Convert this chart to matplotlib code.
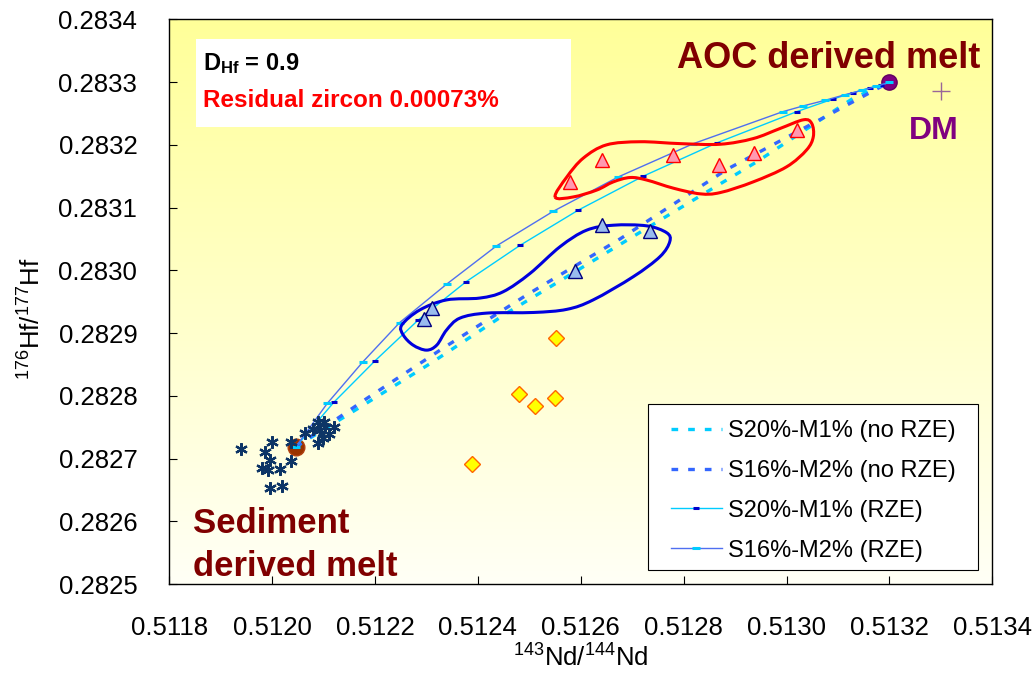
import numpy as np
import matplotlib
matplotlib.use("Agg")
import matplotlib.pyplot as plt
from matplotlib.colors import LinearSegmentedColormap
from matplotlib.patches import Rectangle, PathPatch
from matplotlib.path import Path

plt.rcParams["font.family"] = ["Liberation Sans", "DejaVu Sans"]
plt.rcParams["mathtext.fontset"] = "custom"
plt.rcParams["mathtext.rm"] = "Liberation Sans"
plt.rcParams["mathtext.it"] = "Liberation Sans:italic"
plt.rcParams["mathtext.bf"] = "Liberation Sans:bold"

# end members
sediment = (0.512046, 0.282719)
aoc = (0.513200, 0.283300)
dm = (0.513300, 0.283286)

# measured samples
stars_x = [0.511940, 0.512000, 0.511987, 0.511996, 0.511980, 0.511992, 0.512015, 0.512036,
           0.512037, 0.512063, 0.512079, 0.512090, 0.512101, 0.512093, 0.512103, 0.512099,
           0.512090, 0.512120, 0.511996, 0.512019, 0.512110]
stars_y = [0.282716, 0.282727, 0.282710, 0.282698, 0.282686, 0.282682, 0.282684, 0.282696,
           0.282727, 0.282741, 0.282748, 0.282759, 0.282759, 0.282746, 0.282751, 0.282733,
           0.282725, 0.282751, 0.282653, 0.282657, 0.282740]

red_tri_x = [0.512579, 0.512641, 0.512779, 0.512869, 0.512937, 0.513020]
red_tri_y = [0.283141, 0.283176, 0.283184, 0.283168, 0.283187, 0.283224]

blue_tri_x = [0.512310, 0.512296, 0.512589, 0.512641, 0.512735]
blue_tri_y = [0.282940, 0.282922, 0.282999, 0.283072, 0.283062]

diam_x = [0.512552, 0.512480, 0.512510, 0.512549, 0.512389]
diam_y = [0.282893, 0.282803, 0.282784, 0.282797, 0.282692]

# mixing models
s20_norze_x = [0.512046, 0.512147, 0.512310, 0.512456, 0.512573, 0.512754, 0.512942, 0.513129, 0.513200]
s20_norze_y = [0.282719, 0.282770, 0.282853, 0.282932, 0.282990, 0.283080, 0.283173, 0.283274, 0.283300]

s16_norze_x = [0.512046, 0.512184, 0.512332, 0.512495, 0.512676, 0.512884, 0.513078, 0.513200]
s16_norze_y = [0.282719, 0.282796, 0.282876, 0.282961, 0.283050, 0.283161, 0.283246, 0.283300]

s20_rze_x = [0.512046, 0.512120, 0.512200, 0.512284, 0.512377, 0.512482, 0.512595, 0.512721,
             0.512864, 0.513020, 0.513090, 0.513129, 0.513162, 0.513184, 0.513200]
s20_rze_y = [0.282719, 0.282790, 0.282856, 0.282921, 0.282982, 0.283040, 0.283096, 0.283150,
             0.283203, 0.283253, 0.283273, 0.283283, 0.283291, 0.283295, 0.283300]

s16_rze_x = [0.512046, 0.512107, 0.512176, 0.512248, 0.512339, 0.512436, 0.512546, 0.512673,
             0.512819, 0.512993, 0.513032, 0.513075, 0.513114, 0.513147, 0.513174, 0.513200]
s16_rze_y = [0.282719, 0.282788, 0.282854, 0.282917, 0.282978, 0.283039, 0.283094, 0.283149,
             0.283202, 0.283253, 0.283262, 0.283271, 0.283280, 0.283287, 0.283293, 0.283300]

# hand drawn fields
red_env_x = [0.512550, 0.512573, 0.512605, 0.512650, 0.512715, 0.512793, 0.512871, 0.512935,
             0.512987, 0.513033, 0.513049, 0.513052, 0.513039, 0.513000, 0.512935, 0.512871,
             0.512832, 0.512780, 0.512728, 0.512696, 0.512663, 0.512631, 0.512585]
red_env_y = [0.283117, 0.283149, 0.283179, 0.283200, 0.283205, 0.283202, 0.283201, 0.283210,
             0.283226, 0.283240, 0.283234, 0.283213, 0.283192, 0.283165, 0.283141, 0.283124,
             0.283122, 0.283131, 0.283144, 0.283148, 0.283141, 0.283128, 0.283117]

blue_env_x = [0.512252, 0.512287, 0.512339, 0.512404, 0.512449, 0.512501, 0.512560, 0.512611,
              0.512663, 0.512728, 0.512767, 0.512773, 0.512754, 0.512702, 0.512624, 0.512573,
              0.512508, 0.512417, 0.512365, 0.512339, 0.512320, 0.512300, 0.512274, 0.512255]
blue_env_y = [0.282913, 0.282937, 0.282953, 0.282956, 0.282966, 0.282995, 0.283038, 0.283064,
              0.283072, 0.283071, 0.283060, 0.283046, 0.283022, 0.282990, 0.282953, 0.282938,
              0.282933, 0.282932, 0.282924, 0.282905, 0.282881, 0.282873, 0.282881, 0.282897]

x_ticks = [0.5118, 0.5120, 0.5122, 0.5124, 0.5126, 0.5128, 0.5130, 0.5132, 0.5134]
y_ticks = [0.2825, 0.2826, 0.2827, 0.2828, 0.2829, 0.2830, 0.2831, 0.2832, 0.2833, 0.2834]


def smooth_loop(xs, ys):
    # closed catmull-rom outline turned into bezier segments
    pts = np.column_stack([xs, ys])
    n = len(pts)
    verts = [pts[0]]
    codes = [Path.MOVETO]
    for i in range(n):
        p0, p1, p2, p3 = pts[i - 1], pts[i], pts[(i + 1) % n], pts[(i + 2) % n]
        verts += [p1 + (p2 - p0) / 6, p2 - (p3 - p1) / 6, p2]
        codes += [Path.CURVE4] * 3
    return Path(verts, codes)


fig = plt.figure(figsize=(10.34, 6.76), dpi=100)
ax = fig.add_axes([0.1637, 0.1357, 0.7960, 0.8357])

# yellow gradient background
grad = np.linspace(0, 1, 256).reshape(-1, 1)
bg = LinearSegmentedColormap.from_list("bg", ["#FFFFF6", "#FFFF99"])
ax.imshow(grad, cmap=bg, aspect="auto", extent=[0, 1, 0, 1], origin="lower",
          transform=ax.transAxes, zorder=0)

# end member circles
ax.plot(*sediment, "o", ms=12, mfc="#993300", mec="#B04010", zorder=2)
ax.plot(*aoc, "o", ms=11, mfc="#800080", mec="#600060", zorder=2)
ax.plot(*dm, "+", ms=13, mew=1, color="#996699", zorder=2)

# model curves
ax.plot(s20_norze_x, s20_norze_y, color="#00CCFF", lw=2.4, dashes=(2, 3), zorder=3,
        label="S20%-M1% (no RZE)")
ax.plot(s16_norze_x, s16_norze_y, color="#3366FF", lw=2.4, dashes=(2, 3), zorder=3,
        label="S16%-M2% (no RZE)")
ax.plot(s20_rze_x, s20_rze_y, color="#00CCFF", lw=1.0, marker="_", ms=3.8, mew=2.2,
        mec="#0000CC", zorder=3, label="S20%-M1% (RZE)")
ax.plot(s16_rze_x, s16_rze_y, color="#4F6FF0", lw=1.0, marker="_", ms=6, mew=2.2,
        mec="#00CCFF", zorder=3, label="S16%-M2% (RZE)")

# fields
ax.add_patch(PathPatch(smooth_loop(red_env_x, red_env_y), fill=False, ec="#FF0000", lw=2.2, zorder=4))
ax.add_patch(PathPatch(smooth_loop(blue_env_x, blue_env_y), fill=False, ec="#0000DD", lw=2.2, zorder=4))

# samples
ax.plot(stars_x, stars_y, ls="none", marker=(6, 2, 0), ms=9, mew=1.6, color="#0D3566", zorder=5)
ax.plot(red_tri_x, red_tri_y, ls="none", marker="^", ms=10.5, mfc="#FF99B0", mec="#FF0000", mew=1, zorder=5)
ax.plot(blue_tri_x, blue_tri_y, ls="none", marker="^", ms=10.5, mfc="#99BBEE", mec="#000080", mew=1, zorder=5)
ax.plot(diam_x, diam_y, ls="none", marker="D", ms=8.5, mfc="#FFFF00", mec="#FF6600", mew=1, zorder=5)

# labels on the plot
ax.text(0.512787, 0.283323, "AOC derived melt", color="#800000", fontsize=26, fontweight="bold", zorder=6)
ax.text(0.513238, 0.283209, "DM", color="#800080", fontsize=23, fontweight="bold", zorder=6)
ax.text(0.5118467, 0.2825817, "Sediment", color="#800000", fontsize=25, fontweight="bold", zorder=6)
ax.text(0.5118467, 0.2825132, "derived melt", color="#800000", fontsize=25, fontweight="bold", zorder=6)

ax.add_patch(Rectangle((0.0324, 0.81), 0.4553, 0.1546, transform=ax.transAxes,
                       fc="white", ec="none", zorder=5))
ax.text(0.041, 0.910, r"$\mathbf{D_{Hf}}$ = 0.9", transform=ax.transAxes, fontsize=17,
        fontweight="bold", color="black", zorder=6)
ax.text(0.041, 0.844, "Residual zircon 0.00073%", transform=ax.transAxes, fontsize=17.5,
        fontweight="bold", color="#FF0000", zorder=6)

# axes
ax.set_xlim(0.5118, 0.5134)
ax.set_ylim(0.2825, 0.2834)
ax.set_xticks(x_ticks)
ax.set_yticks(y_ticks)
ax.set_xticklabels([f"{v:.4f}" for v in x_ticks])
ax.set_yticklabels([f"{v:.4f}" for v in y_ticks])
ax.tick_params(axis="both", direction="in", length=6, width=0.8, labelsize=18.5)
ax.tick_params(axis="x", pad=23)
ax.tick_params(axis="y", pad=23)
for sp in ax.spines.values():
    sp.set_linewidth(1.0)

ax.set_xlabel(r"$^{143}$Nd/$^{144}$Nd", fontsize=18.5)
ax.set_ylabel(r"$^{176}$Hf/$^{177}$Hf", fontsize=18.5)
ax.xaxis.set_label_coords(0.5, -0.107)
ax.yaxis.set_label_coords(-0.150, 0.47)

# legend: white frame drawn separately
ax.add_patch(Rectangle((0.582, 0.0253), 0.401, 0.294, transform=ax.transAxes,
                       fc="white", ec="black", lw=0.8, zorder=6.9))
leg = ax.legend(loc="upper left", bbox_to_anchor=(0.609, 0.291), frameon=False,
                fontsize=17, handlelength=2.16, handletextpad=0.28, labelspacing=0.76,
                borderpad=0, borderaxespad=0, numpoints=1)
leg.set_zorder(7)

fig.savefig("out.png", dpi=100)
